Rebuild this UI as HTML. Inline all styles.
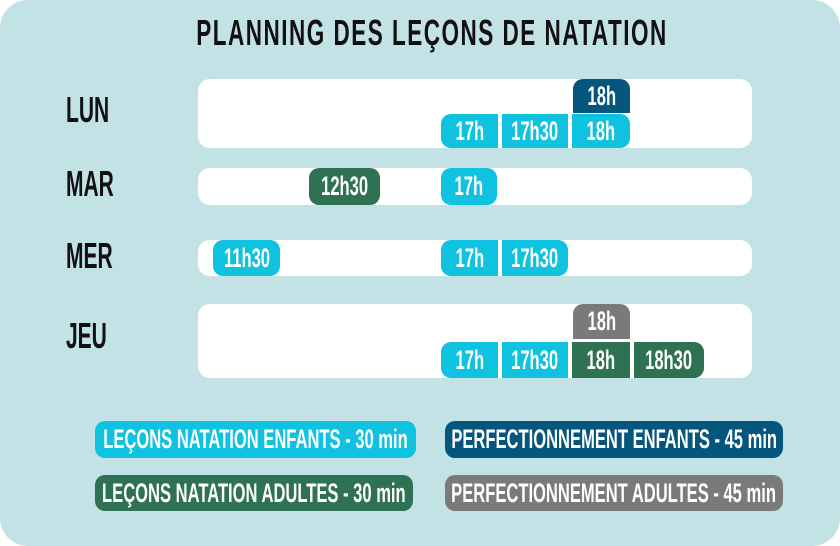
<!DOCTYPE html>
<html><head><meta charset="utf-8"><style>
body{margin:0;width:840px;height:546px;background:#fff;position:relative;overflow:hidden;font-family:"Liberation Sans",sans-serif;font-weight:bold}
.bg{position:absolute;left:0;top:0;width:840px;height:546px;background:#c3e2e6;border-radius:28px}
.t{position:absolute;left:12px;width:840px;top:17px;text-align:center;font-size:30px;letter-spacing:2px;color:#111;transform:scale(0.75,1.2);white-space:nowrap}
.d{position:absolute;left:66px;font-size:30px;color:#111;transform:scale(0.7,1.2);transform-origin:left center}
.w{position:absolute;left:198px;width:554px;background:#fff;border-radius:12px}
.b{position:absolute;color:#fff;font-size:23px;display:flex;align-items:center;justify-content:center;white-space:nowrap}
.b span{display:inline-block;transform:scale(0.72,1.15)}
.c{background:#0fc2e0}.n{background:#04567c}.g{background:#2e7153}.y{background:#7a7a7a}
.l{position:absolute;color:#fff;font-size:23px;display:flex;align-items:center;justify-content:center;border-radius:10px;white-space:nowrap;overflow:visible}
.l span{display:inline-block;transform:scale(0.72,1.15)}
</style></head><body>
<div class="bg"></div>
<div class="t">PLANNING DES LEÇONS DE NATATION</div>
<div class="d" style="top:94px">LUN</div>
<div class="d" style="top:168px">MAR</div>
<div class="d" style="top:240px">MER</div>
<div class="d" style="top:320px">JEU</div>
<div class="w" style="top:79px;height:69px"></div>
<div class="w" style="top:168px;height:37px"></div>
<div class="w" style="top:240px;height:36px"></div>
<div class="w" style="top:304px;height:74px"></div>
<div class="b n" style="left:573px;top:79px;width:57px;height:34px;border-radius:10px 10px 0 0"><span>18h</span></div>
<div class="b c" style="left:441px;top:114px;width:57px;height:34px;border-radius:10px 0 0 10px"><span>17h</span></div>
<div class="b c" style="left:502px;top:114px;width:66px;height:34px"><span>17h30</span></div>
<div class="b c" style="left:572px;top:114px;width:58px;height:34px;border-radius:0 10px 10px 0"><span>18h</span></div>
<div class="b g" style="left:309px;top:168px;width:71px;height:37px;border-radius:10px"><span>12h30</span></div>
<div class="b c" style="left:441px;top:168px;width:56px;height:37px;border-radius:10px"><span>17h</span></div>
<div class="b c" style="left:213px;top:240px;width:67px;height:36px;border-radius:10px"><span>11h30</span></div>
<div class="b c" style="left:441px;top:240px;width:57px;height:36px;border-radius:10px 0 0 10px"><span>17h</span></div>
<div class="b c" style="left:502px;top:240px;width:66px;height:36px;border-radius:0 10px 10px 0"><span>17h30</span></div>
<div class="b y" style="left:573px;top:304px;width:57px;height:35px;border-radius:10px 10px 0 0"><span>18h</span></div>
<div class="b c" style="left:441px;top:342px;width:57px;height:36px;border-radius:10px 0 0 10px"><span>17h</span></div>
<div class="b c" style="left:502px;top:342px;width:66px;height:36px"><span>17h30</span></div>
<div class="b g" style="left:572px;top:342px;width:58px;height:36px"><span>18h</span></div>
<div class="b g" style="left:634px;top:342px;width:70px;height:36px;border-radius:0 10px 10px 0"><span>18h30</span></div>
<div class="l c" style="left:95px;top:421px;width:321px;height:37px"><span>LEÇONS NATATION ENFANTS - 30 min</span></div>
<div class="l n" style="left:445px;top:421px;width:338px;height:37px"><span>PERFECTIONNEMENT ENFANTS - 45 min</span></div>
<div class="l g" style="left:95px;top:475px;width:318px;height:36px"><span>LEÇONS NATATION ADULTES - 30 min</span></div>
<div class="l y" style="left:445px;top:475px;width:338px;height:36px"><span>PERFECTIONNEMENT ADULTES - 45 min</span></div>
</body></html>
